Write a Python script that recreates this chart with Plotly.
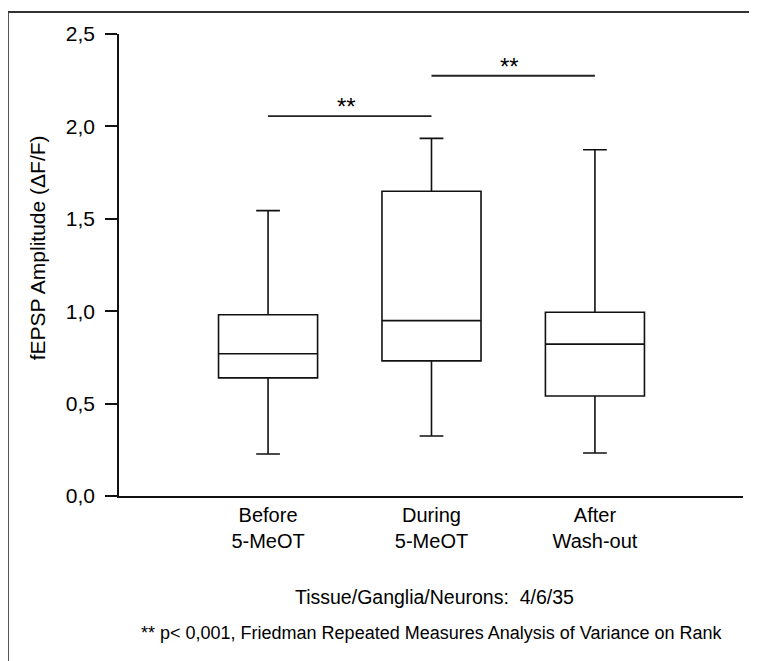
import plotly.graph_objects as go

# ---- data ----
categories = ["Before<br>5-MeOT", "During<br>5-MeOT", "After<br>Wash-out"]
positions = [1, 2, 3]
lower_whisker = [0.227, 0.325, 0.233]
q1_values = [0.639, 0.731, 0.541]
median_values = [0.770, 0.949, 0.822]
q3_values = [0.981, 1.649, 0.994]
upper_whisker = [1.544, 1.935, 1.874]

y_ticks = [0.0, 0.5, 1.0, 1.5, 2.0, 2.5]

sig_pairs = [(1, 2), (2, 3)]
sig_levels = [2.056, 2.274]
sig_labels = ["**", "**"]

FONT = "Liberation Sans, Arial, sans-serif"

fig = go.Figure()
fig.add_trace(go.Box(
    x=positions,
    q1=q1_values, median=median_values, q3=q3_values,
    lowerfence=lower_whisker, upperfence=upper_whisker,
    width=0.606, whiskerwidth=0.24,
    fillcolor="white",
    line=dict(color="#111111", width=1.6),
    boxpoints=False, showlegend=False, hoverinfo="skip",
))

# significance bars
for (a, b), lvl, lab in zip(sig_pairs, sig_levels, sig_labels):
    fig.add_shape(type="line", x0=a, x1=b, y0=lvl, y1=lvl, xref="x", yref="y",
                  line=dict(color="#222222", width=1.8))
    fig.add_annotation(x=(a + b) / 2 - 0.02, y=lvl, text=lab, showarrow=False,
                       xref="x", yref="y", yanchor="bottom", yshift=-6,
                       font=dict(family=FONT, size=24, color="black"))

# outer frame (open at right and bottom edges of the picture)
fig.add_shape(type="rect", xref="paper", yref="paper",
              x0=-0.178, x1=1.05, y0=-0.40, y1=1.0476,
              line=dict(color="#333333", width=1.8), fillcolor="rgba(0,0,0,0)",
              layer="below")

# y-axis title
fig.add_annotation(text="fEPSP Amplitude (\u0394F/F)", textangle=-90,
                   xref="paper", yref="paper", x=-0.13, y=0.538,
                   xanchor="center", yanchor="middle", showarrow=False,
                   font=dict(family=FONT, size=21, color="black"))

fig.add_annotation(text="Tissue/Ganglia/Neurons:  4/6/35",
                   xref="paper", yref="paper", x=0.505, y=-0.2186,
                   xanchor="center", yanchor="middle", showarrow=False,
                   font=dict(family=FONT, size=19.5, color="black"))
fig.add_annotation(text="** p< 0,001, Friedman Repeated Measures Analysis of Variance on Rank",
                   xref="paper", yref="paper", x=0.5024, y=-0.2965,
                   xanchor="center", yanchor="middle", showarrow=False,
                   font=dict(family=FONT, size=18, color="black"))

fig.update_layout(
    width=749, height=653,
    margin=dict(l=111, r=14, t=26, b=165),
    paper_bgcolor="white", plot_bgcolor="white",
    separators=",.",
    font=dict(family=FONT, size=20, color="black"),
    xaxis=dict(range=[0.088, 3.906], tickvals=positions, ticktext=categories,
               showline=True, linecolor="#111111", linewidth=1.6,
               ticks="", showgrid=False, zeroline=False,
               tickfont=dict(family=FONT, size=20, color="black")),
    yaxis=dict(range=[0, 2.5], tickvals=y_ticks, tickformat=".1f",
               showline=True, linecolor="#111111", linewidth=1.6,
               ticks="outside", ticklen=12, tickwidth=1.6, tickcolor="#111111",
               ticklabelstandoff=6,
               showgrid=False, zeroline=False,
               tickfont=dict(family=FONT, size=21, color="black")),
)

fig.write_html("out.html")
